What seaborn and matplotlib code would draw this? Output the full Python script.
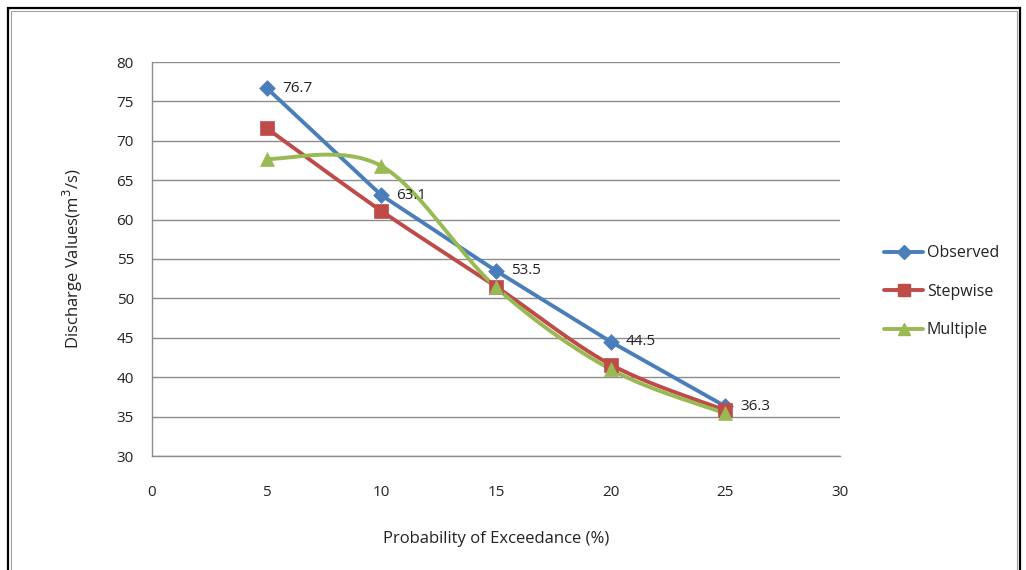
import numpy as np
import pandas as pd
import matplotlib
matplotlib.use("Agg")
import matplotlib.pyplot as plt
from matplotlib.patches import Rectangle
from matplotlib.lines import Line2D
import seaborn as sns

# Discharge at each exceedance probability
prob = [5, 10, 15, 20, 25]
observed = [76.7, 63.1, 53.5, 44.5, 36.3]
stepwise = [71.6, 61.1, 51.5, 41.6, 35.8]
multiple = [67.7, 66.8, 51.4, 41.0, 35.4]

series_names = ["Observed", "Stepwise", "Multiple"]
colors = {"Observed": "#4A7EBB", "Stepwise": "#BE4B48", "Multiple": "#98B954"}
markers = {"Observed": "D", "Stepwise": "s", "Multiple": "^"}
msizes = {"Observed": 8, "Stepwise": 10, "Multiple": 10}
smoothed = {"Observed": False, "Stepwise": True, "Multiple": True}


def smooth(xs, ys, n=40):
    """Bezier smoothing through the points (spreadsheet-style smoothed line)."""
    xs = np.asarray(xs, float)
    ys = np.asarray(ys, float)
    px = np.concatenate([[xs[0]], xs, [xs[-1]]])
    py = np.concatenate([[ys[0]], ys, [ys[-1]]])
    out_x, out_y = [], []
    t = np.linspace(0, 1, n)
    for i in range(1, len(px) - 2):
        p0 = np.array([px[i], py[i]])
        p3 = np.array([px[i + 1], py[i + 1]])
        p1 = p0 + (np.array([px[i + 1], py[i + 1]]) - np.array([px[i - 1], py[i - 1]])) / 6
        p2 = p3 - (np.array([px[i + 2], py[i + 2]]) - np.array([px[i], py[i]])) / 6
        b = ((1 - t) ** 3)[:, None] * p0 + (3 * (1 - t) ** 2 * t)[:, None] * p1 \
            + (3 * (1 - t) * t ** 2)[:, None] * p2 + (t ** 3)[:, None] * p3
        out_x.extend(b[:, 0])
        out_y.extend(b[:, 1])
    return np.array(out_x), np.array(out_y)


points = pd.DataFrame({
    "prob": prob * 3,
    "value": observed + stepwise + multiple,
    "series": np.repeat(series_names, len(prob)),
})
curve_frames = []
for name, vals in zip(series_names, [observed, stepwise, multiple]):
    if smoothed[name]:
        cx, cy = smooth(prob, vals)
    else:
        cx, cy = np.asarray(prob, float), np.asarray(vals, float)
    curve_frames.append(pd.DataFrame({"prob": cx, "value": cy, "series": name}))
curves = pd.concat(curve_frames, ignore_index=True)

sns.set_style("white")
plt.rcParams["font.family"] = ["Open Sans", "DejaVu Sans"]

fig = plt.figure(figsize=(10.26, 5.70), dpi=100)
ax = fig.add_axes([152 / 1026, 1 - 456 / 570, (840 - 152) / 1026, (456 - 62) / 570])

# page frame
fig.patches.append(Rectangle((8 / 1026, -0.01), 1012 / 1026, 1 - 8 / 570 + 0.01,
                             transform=fig.transFigure, fill=False,
                             edgecolor="black", linewidth=1.6, zorder=0))
fig.patches.append(Rectangle((11 / 1026, -0.01), 1006 / 1026, 1 - 11 / 570 + 0.01,
                             transform=fig.transFigure, fill=False,
                             edgecolor="#A0A0A0", linewidth=0.8, zorder=0))

for name in series_names:
    sub = curves[curves.series == name]
    sns.lineplot(data=sub, x="prob", y="value", sort=False, estimator=None,
                 color=colors[name], linewidth=2.8, ax=ax, legend=False)
for name in series_names:
    sub = points[points.series == name]
    sns.scatterplot(data=sub, x="prob", y="value", marker=markers[name],
                    s=msizes[name] ** 2, color=colors[name], edgecolor=colors[name],
                    linewidth=0.5, ax=ax, legend=False, zorder=5)

for x, y in zip(prob, observed):
    ax.annotate(f"{y}", (x, y), xytext=(11, 0), textcoords="offset points",
                va="center", ha="left", fontsize=11, color="#222222")

ax.set_xlim(0, 30)
ax.set_ylim(30, 80)
ax.set_xticks(range(0, 31, 5))
ax.set_yticks(range(30, 81, 5))
ax.grid(axis="y", color="#8C8C8C", linewidth=1.0)
ax.grid(axis="x", visible=False)
for side in ["top", "right"]:
    ax.spines[side].set_visible(False)
for side in ["left", "bottom"]:
    ax.spines[side].set_color("#8C8C8C")
    ax.spines[side].set_linewidth(1.0)
ax.tick_params(axis="both", which="major", direction="out", length=5,
               color="#8C8C8C", labelsize=11, labelcolor="#222222", pad=8)
ax.tick_params(axis="x", pad=16)

ax.set_xlabel("Probability of Exceedance (%)", fontsize=12, color="#222222", labelpad=22)
ax.set_ylabel("Discharge Values(m$^3$/s)", fontsize=12, color="#222222", labelpad=23)

handles = [Line2D([0], [0], color=colors[n], linewidth=2.8, marker=markers[n],
                  markersize=msizes[n] - 1, markerfacecolor=colors[n],
                  markeredgecolor=colors[n]) for n in series_names]
leg = fig.legend(handles, series_names, loc="upper left",
                 bbox_to_anchor=(878 / 1026, 1 - 239 / 570), frameon=False,
                 fontsize=11.5, handlelength=2.4, handletextpad=0.25,
                 labelspacing=1.4, borderaxespad=0)
for t in leg.get_texts():
    t.set_color("#222222")

fig.savefig("out.png", dpi=100, facecolor="white")
